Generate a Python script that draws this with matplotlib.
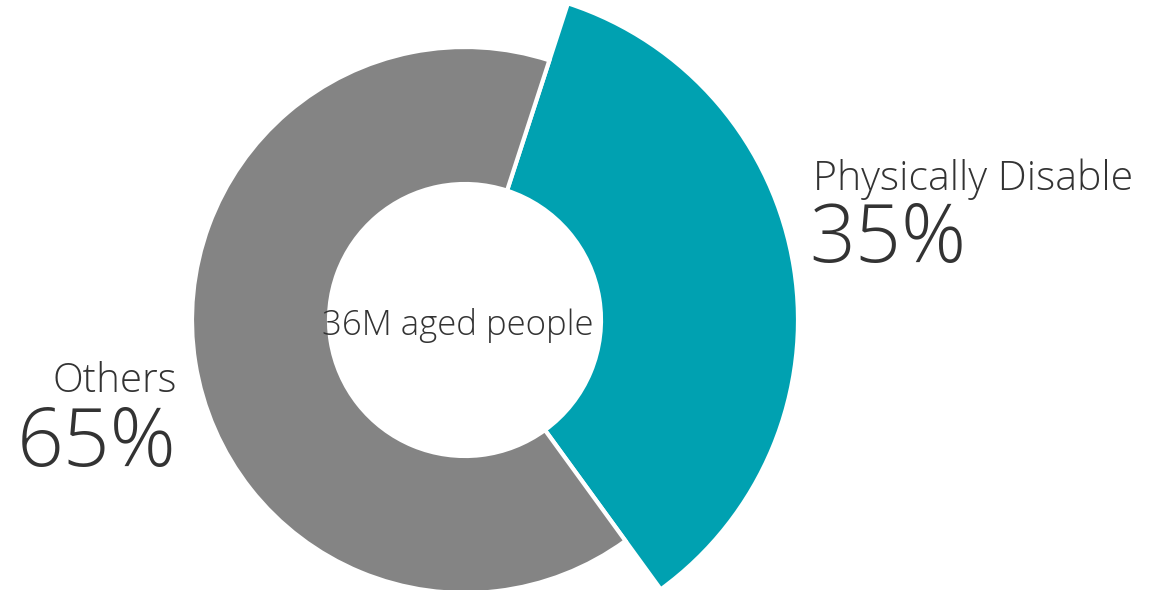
import matplotlib
matplotlib.use("Agg")
import matplotlib.pyplot as plt

labels = ["Physically Disable", "Others"]
values = [35, 65]
colors = ["#00A1B1", "#848484"]
center_label = "36M aged people"

W, H = 1153, 590
fig = plt.figure(figsize=(W / 100, H / 100), dpi=100)
ax = fig.add_axes([0, 0, 1, 1])

# pie centre at pixel (465, 320), 270 px per unit
cx, cy, s = 465, 320, 270

r_out, r_in, r_big = 273 / s, 136 / s, 333 / s
wedges, _ = ax.pie(values, colors=colors, startangle=72, counterclock=False,
                   radius=r_out, center=(0, 0), frame=True,
                   wedgeprops=dict(width=r_out - r_in, edgecolor="white", linewidth=3))
# the highlighted slice sticks out further
wedges[0].set_radius(r_big)
wedges[0].set_width(r_big - r_in)
ax.set_xlim(-cx / s, (W - cx) / s)
ax.set_ylim(-(H - cy) / s, cy / s)
ax.set_aspect("auto")
ax.axis("off")

font = dict(family=["Open Sans", "DejaVu Sans"], weight="light", color="#333333")

def px(x, y):
    return x / W, 1 - y / H

fig.text(*px(813, 190), labels[0], fontsize=29.5, va="baseline", ha="left", **font)
fig.text(*px(809, 262), f"{values[0]}%", fontsize=58, va="baseline", ha="left", **font)
fig.text(*px(177, 392), labels[1], fontsize=29, va="baseline", ha="right", **font)
fig.text(*px(177, 466), f"{values[1]}%", fontsize=59, va="baseline", ha="right", **font)
fig.text(*px(458, 335), center_label, fontsize=25, va="baseline", ha="center", **font)

fig.savefig("out.png", dpi=100)
